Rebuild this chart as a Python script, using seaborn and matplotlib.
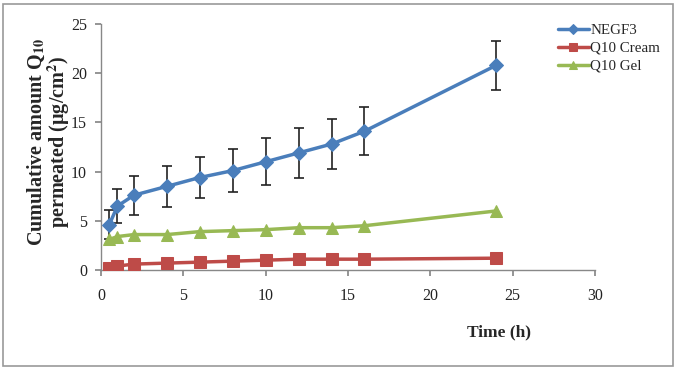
import pandas as pd
import matplotlib
matplotlib.use("Agg")
import matplotlib.pyplot as plt
import seaborn as sns

# time points (h)
time_h = [0.5, 1, 2, 4, 6, 8, 10, 12, 14, 16, 24]

negf3 = [4.6, 6.5, 7.6, 8.5, 9.4, 10.1, 11.0, 11.9, 12.8, 14.1, 20.8]
negf3_err = [1.5, 1.75, 2.0, 2.1, 2.1, 2.2, 2.4, 2.5, 2.55, 2.45, 2.5]
q10_cream = [0.2, 0.4, 0.6, 0.7, 0.8, 0.9, 1.0, 1.1, 1.1, 1.1, 1.2]
q10_gel = [3.1, 3.4, 3.6, 3.6, 3.9, 4.0, 4.1, 4.3, 4.3, 4.5, 6.0]

series_names = ["NEGF3", "Q10 Cream", "Q10 Gel"]
COLORS = ["#4A7EBB", "#BE4B48", "#98B954"]
MARKERS = ["D", "s", "^"]

sns.set_theme(style="white")
plt.rcParams["font.family"] = ["Liberation Serif", "DejaVu Serif"]
plt.rcParams["mathtext.fontset"] = "stix"

df = pd.DataFrame({
    "Time": time_h * 3,
    "Amount": negf3 + q10_cream + q10_gel,
    "Series": [s for s in series_names for _ in time_h],
})

fig = plt.figure(figsize=(6.77, 3.69), dpi=100)
ax = fig.add_axes([101 / 677, 1 - 270 / 369, 494 / 677, 246 / 369])

ax.errorbar(time_h, negf3, yerr=negf3_err, fmt="none", ecolor="#222222",
            elinewidth=1.2, capsize=3.5, capthick=1.2, zorder=1)

for name, color, marker in zip(series_names, COLORS, MARKERS):
    sub = df[df["Series"] == name]
    ms = 7 if marker == "D" else 8
    sns.lineplot(data=sub, x="Time", y="Amount", ax=ax, color=color, marker=marker,
                 markersize=ms, markeredgecolor=color, linewidth=2.5, label=name, zorder=3)

ax.set_xlim(0, 30)
ax.set_ylim(0, 25)
ax.set_xticks(range(0, 31, 5))
ax.set_yticks(range(0, 26, 5))
ax.tick_params(axis="both", labelsize=11.5, length=4, direction="out", color="#888888",
               bottom=True, left=True, colors="#222222")
ax.tick_params(axis="x", pad=9)
ax.tick_params(axis="y", pad=6)
for side in ["top", "right"]:
    ax.spines[side].set_visible(False)
for side in ["left", "bottom"]:
    ax.spines[side].set_color("#888888")
    ax.spines[side].set_linewidth(1)

ax.set_xlabel("Time (h)", fontsize=12.5, fontweight="bold")
ax.xaxis.set_label_coords(0.805, -0.22)
ax.set_ylabel("Cumulative amount Q$_{\\mathbf{10}}$\npermeated (µg/cm$^{\\mathbf{2}}$)",
              fontsize=14.5, fontweight="bold", linespacing=0.95)
ax.yaxis.set_label_coords(-0.058, 0.52)

ax.legend(loc="upper left", bbox_to_anchor=(550 / 677, 1 - 16 / 369),
          bbox_transform=fig.transFigure, frameon=False, fontsize=10.8,
          handlelength=2.1, handletextpad=0.1, labelspacing=0.3, borderpad=0,
          markerscale=0.75)

fig.patches.append(plt.Rectangle((3 / 677, 3 / 369), 670 / 677, 362 / 369,
                                 transform=fig.transFigure, fill=False,
                                 edgecolor="#999999", linewidth=1.2))

fig.savefig("out.png", dpi=100)
